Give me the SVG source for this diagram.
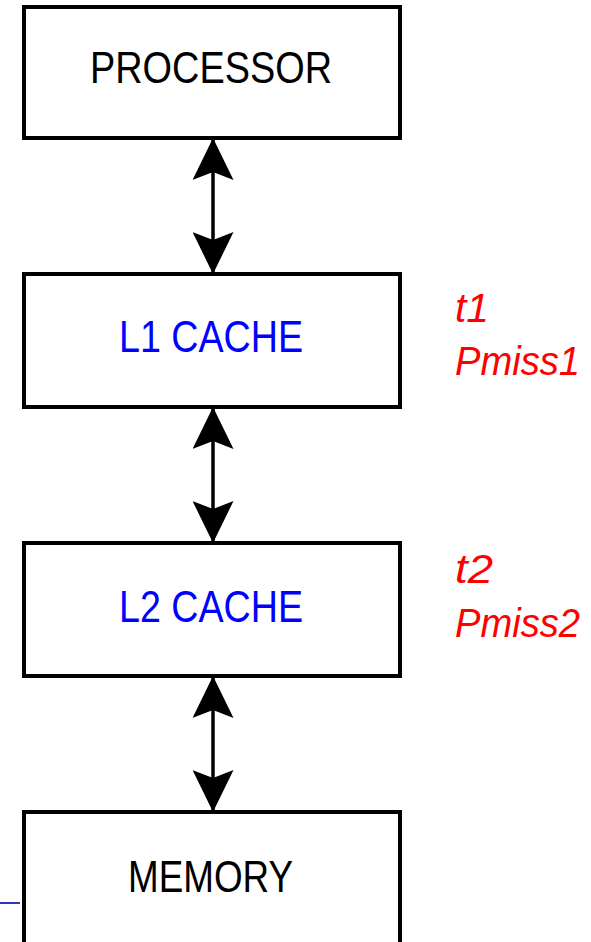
<svg xmlns="http://www.w3.org/2000/svg" width="591" height="942" viewBox="0 0 591 942">
  <defs>
    <style>
      .box { fill: #ffffff; stroke: #000000; stroke-width: 4; }
      .lbl { font-family: "Liberation Sans", Arial, sans-serif; font-size: 44px; text-anchor: middle; }
      .black { fill: #000000; }
      .blue { fill: #0000ff; }
      .note { font-family: "Liberation Sans", Arial, sans-serif; font-size: 41px; font-style: italic; fill: #ff0000; }
      .conn { stroke: #000000; stroke-width: 3.5; fill: none; marker-start: url(#ah); marker-end: url(#ah); }
    </style>
    <marker id="ah" viewBox="0 0 42 41" refX="42" refY="20.5" markerWidth="42" markerHeight="41" markerUnits="userSpaceOnUse" orient="auto-start-reverse">
      <path d="M0,0 L42,20.5 L0,41 L8,20.5 Z" fill="#000000"/>
    </marker>
  </defs>
  <rect width="591" height="942" fill="#ffffff"/>

  <g id="connectors">
    <line class="conn" x1="213" y1="138" x2="213" y2="274"/>
    <line class="conn" x1="213" y1="407" x2="213" y2="543"/>
    <line class="conn" x1="213" y1="676" x2="213" y2="812"/>
  </g>

  <g id="processor">
    <rect class="box" x="24" y="7" width="376" height="131"/>
    <text class="lbl black" x="211" y="83" textLength="242" lengthAdjust="spacingAndGlyphs">PROCESSOR</text>
  </g>

  <g id="l1cache">
    <rect class="box" x="24" y="274" width="376" height="133"/>
    <text class="lbl blue" x="211" y="352" textLength="184" lengthAdjust="spacingAndGlyphs">L1 CACHE</text>
  </g>

  <g id="l2cache">
    <rect class="box" x="24" y="543" width="376" height="133"/>
    <text class="lbl blue" x="211" y="622" textLength="184" lengthAdjust="spacingAndGlyphs">L2 CACHE</text>
  </g>

  <g id="memory">
    <rect class="box" x="24" y="812" width="376" height="140"/>
    <text class="lbl black" x="210.5" y="892" textLength="165" lengthAdjust="spacingAndGlyphs">MEMORY</text>
  </g>

  <g id="l1-notes">
    <text class="note" x="455" y="322" textLength="34" lengthAdjust="spacingAndGlyphs">t1</text>
    <text class="note" x="455" y="375" textLength="125" lengthAdjust="spacingAndGlyphs">Pmiss1</text>
  </g>

  <g id="l2-notes">
    <text class="note" x="455" y="583" textLength="38" lengthAdjust="spacingAndGlyphs">t2</text>
    <text class="note" x="455" y="637" textLength="125" lengthAdjust="spacingAndGlyphs">Pmiss2</text>
  </g>

  <line x1="0" y1="903" x2="20" y2="903" stroke="#3333cc" stroke-width="2"/>
</svg>
